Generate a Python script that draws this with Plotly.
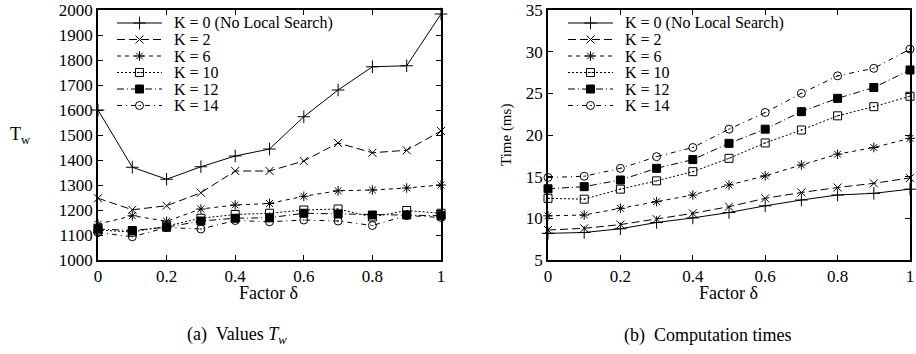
import plotly.graph_objects as go

W, H = 916, 354

delta = [0, 0.1, 0.2, 0.3, 0.4, 0.5, 0.6, 0.7, 0.8, 0.9, 1.0]
x_ticks = [0, 0.2, 0.4, 0.6, 0.8, 1.0]
x_tick_text = ["0", "0.2", "0.4", "0.6", "0.8", "1"]

series_names = ["K = 0 (No Local Search)", "K = 2", "K = 6", "K = 10", "K = 12", "K = 14"]

# (a) Values T_w
tw_k0 = [1600, 1371, 1323, 1373, 1416, 1444, 1573, 1680, 1773, 1777, 1984]
tw_k2 = [1247, 1201, 1217, 1269, 1356, 1356, 1396, 1468, 1429, 1439, 1516]
tw_k6 = [1143, 1177, 1155, 1204, 1220, 1226, 1255, 1277, 1280, 1288, 1300]
tw_k10 = [1120, 1112, 1136, 1167, 1182, 1187, 1200, 1204, 1172, 1198, 1187]
tw_k12 = [1124, 1118, 1131, 1156, 1167, 1169, 1187, 1184, 1180, 1180, 1177]
tw_k14 = [1110, 1093, 1130, 1124, 1158, 1153, 1160, 1156, 1138, 1178, 1170]

# (b) Computation times (ms)
t_k0 = [8.2, 8.3, 8.75, 9.5, 10.05, 10.7, 11.5, 12.2, 12.8, 13.0, 13.5]
t_k2 = [8.6, 8.8, 9.25, 9.9, 10.6, 11.4, 12.4, 13.1, 13.7, 14.2, 14.85]
t_k6 = [10.3, 10.4, 11.2, 12.0, 12.8, 14.0, 15.1, 16.4, 17.7, 18.5, 19.6]
t_k10 = [12.4, 12.3, 13.5, 14.5, 15.6, 17.2, 19.05, 20.6, 22.3, 23.4, 24.65]
t_k12 = [13.55, 13.8, 14.6, 16.0, 17.05, 19.0, 20.7, 22.8, 24.4, 25.7, 27.8]
t_k14 = [14.9, 15.05, 16.0, 17.4, 18.5, 20.7, 22.7, 25.0, 27.1, 28.0, 30.3]

tw_series = [tw_k0, tw_k2, tw_k6, tw_k10, tw_k12, tw_k14]
t_series = [t_k0, t_k2, t_k6, t_k10, t_k12, t_k14]

styles = [
    dict(dash="solid", symbol="cross-thin-open", size=9),
    dict(dash="8px,4px", symbol="x-thin-open", size=8),
    dict(dash="4px,4px", symbol="asterisk-open", size=8),
    dict(dash="2px,2px", symbol="square-open-dot", size=8),
    dict(dash="7px,3px,1px,3px", symbol="square", size=8),
    dict(dash="5px,4px,1px,4px", symbol="circle-open-dot", size=8),
]

FONT = "Liberation Serif"
BLACK = "black"

fig = go.Figure()

for axes, data in ((("x", "y"), tw_series), (("x2", "y2"), t_series)):
    for name, vals, st in zip(series_names, data, styles):
        fig.add_trace(go.Scatter(
            x=delta, y=vals, mode="lines+markers", name=name,
            xaxis=axes[0], yaxis=axes[1], showlegend=False, cliponaxis=False,
            line=dict(color=BLACK, width=1, dash=st["dash"]),
            marker=dict(symbol=st["symbol"], size=st["size"], color=BLACK,
                        line=dict(color=BLACK, width=1)),
        ))

# manual legends (pixel coordinates on an invisible overlay axis)
legend_rows_y = [23, 39.5, 56, 72.5, 89, 105.5]
legend_boxes = [(117, 162, 172), (568, 613, 623)]
annotations = []
for (lx0, lx1, tx) in legend_boxes:
    for name, st, ry in zip(series_names, styles, legend_rows_y):
        fig.add_trace(go.Scatter(
            x=[lx0, lx1], y=[ry, ry], mode="lines", xaxis="x3", yaxis="y3",
            showlegend=False, hoverinfo="skip",
            line=dict(color=BLACK, width=1, dash=st["dash"]),
        ))
        fig.add_trace(go.Scatter(
            x=[(lx0 + lx1) / 2], y=[ry], mode="markers", xaxis="x3", yaxis="y3",
            showlegend=False, hoverinfo="skip",
            marker=dict(symbol=st["symbol"], size=st["size"], color=BLACK,
                        line=dict(color=BLACK, width=1)),
        ))
        annotations.append(dict(
            x=tx, y=ry, xref="x3", yref="y3", text=name, showarrow=False,
            xanchor="left", yanchor="middle",
            font=dict(family=FONT, size=16, color=BLACK),
        ))

# axis titles and captions
annotations += [
    dict(x=20, y=135, xref="x3", yref="y3", text="T<sub>w</sub>", showarrow=False,
         font=dict(family=FONT, size=18, color=BLACK)),
    dict(x=506, y=135, xref="x3", yref="y3", text="Time (ms)", showarrow=False,
         textangle=-90, font=dict(family=FONT, size=15, color=BLACK)),
    dict(x=268, y=293, xref="x3", yref="y3", text="Factor δ", showarrow=False,
         font=dict(family=FONT, size=18, color=BLACK)),
    dict(x=728, y=293, xref="x3", yref="y3", text="Factor δ", showarrow=False,
         font=dict(family=FONT, size=18, color=BLACK)),
    dict(x=237, y=335, xref="x3", yref="y3", text="(a)  Values <i>T<sub>w</sub></i>",
         showarrow=False, font=dict(family=FONT, size=18, color=BLACK)),
    dict(x=707, y=335, xref="x3", yref="y3", text="(b)  Computation times",
         showarrow=False, font=dict(family=FONT, size=18, color=BLACK)),
]

ydom = [1 - 260 / H, 1 - 10 / H]
common_axis = dict(
    showline=True, linecolor=BLACK, linewidth=1.5, mirror="allticks",
    ticks="inside", ticklen=5, tickwidth=1, tickcolor=BLACK,
    showgrid=False, zeroline=False, automargin=False,
    tickfont=dict(family=FONT, size=17, color=BLACK),
)

fig.update_layout(
    width=W, height=H, margin=dict(l=0, r=0, t=0, b=0),
    paper_bgcolor="white", plot_bgcolor="rgba(0,0,0,0)",
    showlegend=False,
    font=dict(family=FONT, color=BLACK),
    xaxis=dict(domain=[98 / W, 441 / W], range=[0, 1], tickvals=x_ticks,
               ticktext=x_tick_text, anchor="y", **common_axis),
    yaxis=dict(domain=ydom, range=[1000, 2000], dtick=100, tick0=1000,
               anchor="x", **common_axis),
    xaxis2=dict(domain=[548 / W, 910 / W], range=[0, 1], tickvals=x_ticks,
                ticktext=x_tick_text, anchor="y2", **common_axis),
    yaxis2=dict(domain=ydom, range=[5, 35], dtick=5, tick0=5,
                anchor="x2", **common_axis),
    xaxis3=dict(domain=[0, 1], range=[0, W], visible=False, anchor="y3"),
    yaxis3=dict(domain=[0, 1], range=[H, 0], visible=False, anchor="x3"),
    annotations=annotations,
)

fig.write_html("out.html")
